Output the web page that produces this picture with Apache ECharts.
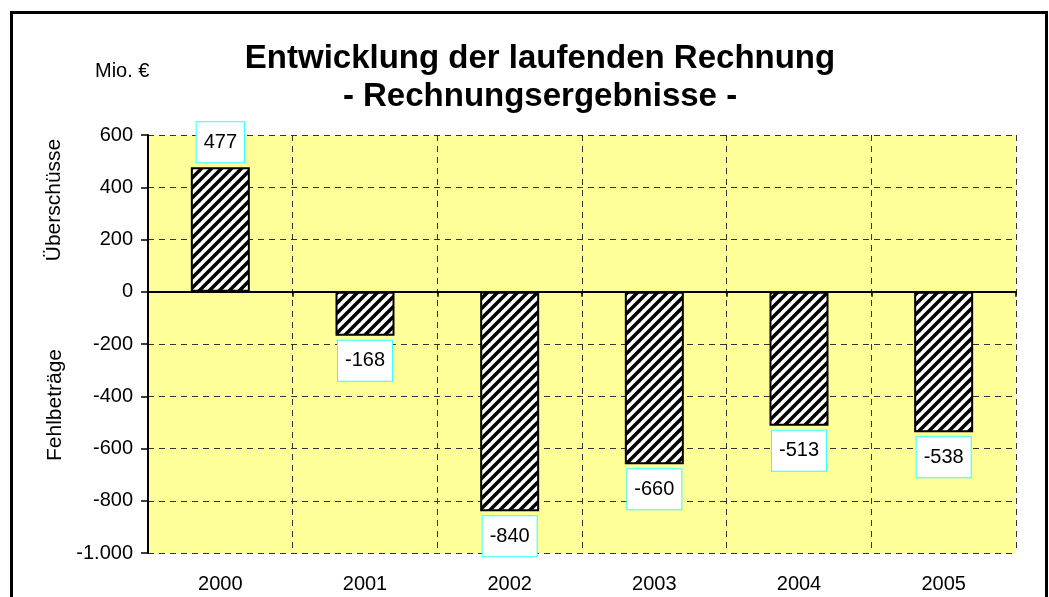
<!DOCTYPE html>
<html>
<head>
<meta charset="utf-8">
<style>
  html, body { margin: 0; padding: 0; background: #fff; }
  #chart { width: 1049px; height: 597px; }
</style>
<script src="https://cdn.jsdelivr.net/npm/echarts@6/dist/echarts.min.js"></script>
</head>
<body>
<div id="chart"></div>
<script>
const years = ['2000', '2001', '2002', '2003', '2004', '2005']
const results = [477, -168, -840, -660, -513, -538]
const yTicks = { min: -1000, max: 600, step: 200 }

const font = '"Liberation Sans", Arial, sans-serif'

// diagonal hatch like the excel fill
function hatch() {
  const size = 10
  const c = document.createElement('canvas')
  c.width = size
  c.height = size
  const ctx = c.getContext('2d')
  ctx.fillStyle = '#fff'
  ctx.fillRect(0, 0, size, size)
  ctx.strokeStyle = '#000'
  ctx.lineWidth = 3.5
  const lines = [[0, size, size, 0], [-size / 2, size / 2, size / 2, -size / 2], [size / 2, size * 1.5, size * 1.5, size / 2]]
  lines.forEach(l => {
    ctx.beginPath()
    ctx.moveTo(l[0], l[1])
    ctx.lineTo(l[2], l[3])
    ctx.stroke()
  })
  return c
}

const chart = echarts.init(document.getElementById('chart'))

const dashed = { color: '#333', width: 1, type: [6, 5] }

chart.setOption({
  animation: false,
  backgroundColor: '#fff',
  textStyle: { fontFamily: font },
  title: {
    text: 'Entwicklung der laufenden Rechnung\n- Rechnungsergebnisse -',
    left: 535,
    top: 35,
    textAlign: 'center',
    textStyle: { fontSize: 33, fontWeight: 'bold', color: '#000', lineHeight: 38, fontFamily: font }
  },
  graphic: [
    {
      type: 'rect',
      shape: { x: 11.5, y: 12.5, width: 1035, height: 640 },
      style: { fill: 'none', stroke: '#000', lineWidth: 3 },
      silent: true
    },
    {
      type: 'text',
      left: 95,
      top: 61,
      style: { text: 'Mio. €', fontSize: 20, fill: '#000', fontFamily: font }
    },
    {
      type: 'text',
      x: 54,
      y: 200,
      rotation: Math.PI / 2,
      style: { text: 'Überschüsse', fontSize: 21, fill: '#000', fontFamily: font, align: 'center', verticalAlign: 'middle' }
    },
    {
      type: 'text',
      x: 55,
      y: 405,
      rotation: Math.PI / 2,
      style: { text: 'Fehlbeträge', fontSize: 21, fill: '#000', fontFamily: font, align: 'center', verticalAlign: 'middle' }
    }
  ],
  grid: {
    left: 148,
    right: 33,
    top: 135,
    bottom: 44,
    show: true,
    backgroundColor: '#FFFF99',
    borderWidth: 0
  },
  xAxis: [
    {
      type: 'category',
      data: years,
      position: 'bottom',
      axisLine: { onZero: true, lineStyle: { color: '#000', width: 2 } },
      axisTick: { show: true, length: 5, lineStyle: { color: '#000', width: 1.5 } },
      axisLabel: { show: false },
      splitLine: { show: true, interval: 0, lineStyle: dashed }
    },
    {
      type: 'category',
      data: years,
      position: 'bottom',
      axisLine: { show: false, onZero: false },
      axisTick: { show: false },
      axisLabel: { fontSize: 20, color: '#000', margin: 21, fontFamily: font },
      splitLine: { show: false }
    }
  ],
  yAxis: {
    type: 'value',
    min: yTicks.min,
    max: yTicks.max,
    interval: yTicks.step,
    axisLine: { show: true, lineStyle: { color: '#000', width: 2 } },
    axisTick: { show: true, length: 7, lineStyle: { color: '#000', width: 1.5 } },
    axisLabel: {
      fontSize: 20,
      color: '#000',
      margin: 15,
      fontFamily: font,
      formatter: v => (v <= -1000 ? '-' + Math.abs(v).toLocaleString('de-DE') : String(v))
    },
    splitLine: { show: true, lineStyle: dashed }
  },
  series: [
    {
      type: 'bar',
      xAxisIndex: 0,
      barWidth: 59,
      itemStyle: {
        color: { image: hatch(), repeat: 'repeat' },
        borderColor: '#000',
        borderWidth: 2
      },
      label: {
        show: true,
        distance: 5,
        fontSize: 20,
        lineHeight: 20,
        color: '#000',
        fontFamily: font,
        backgroundColor: '#fff',
        borderColor: '#33FFFF',
        borderWidth: 1,
        padding: [10, 7]
      },
      data: results.map(v => ({
        value: v,
        label: { position: v >= 0 ? 'top' : 'bottom' }
      }))
    }
  ]
})
</script>
</body>
</html>
